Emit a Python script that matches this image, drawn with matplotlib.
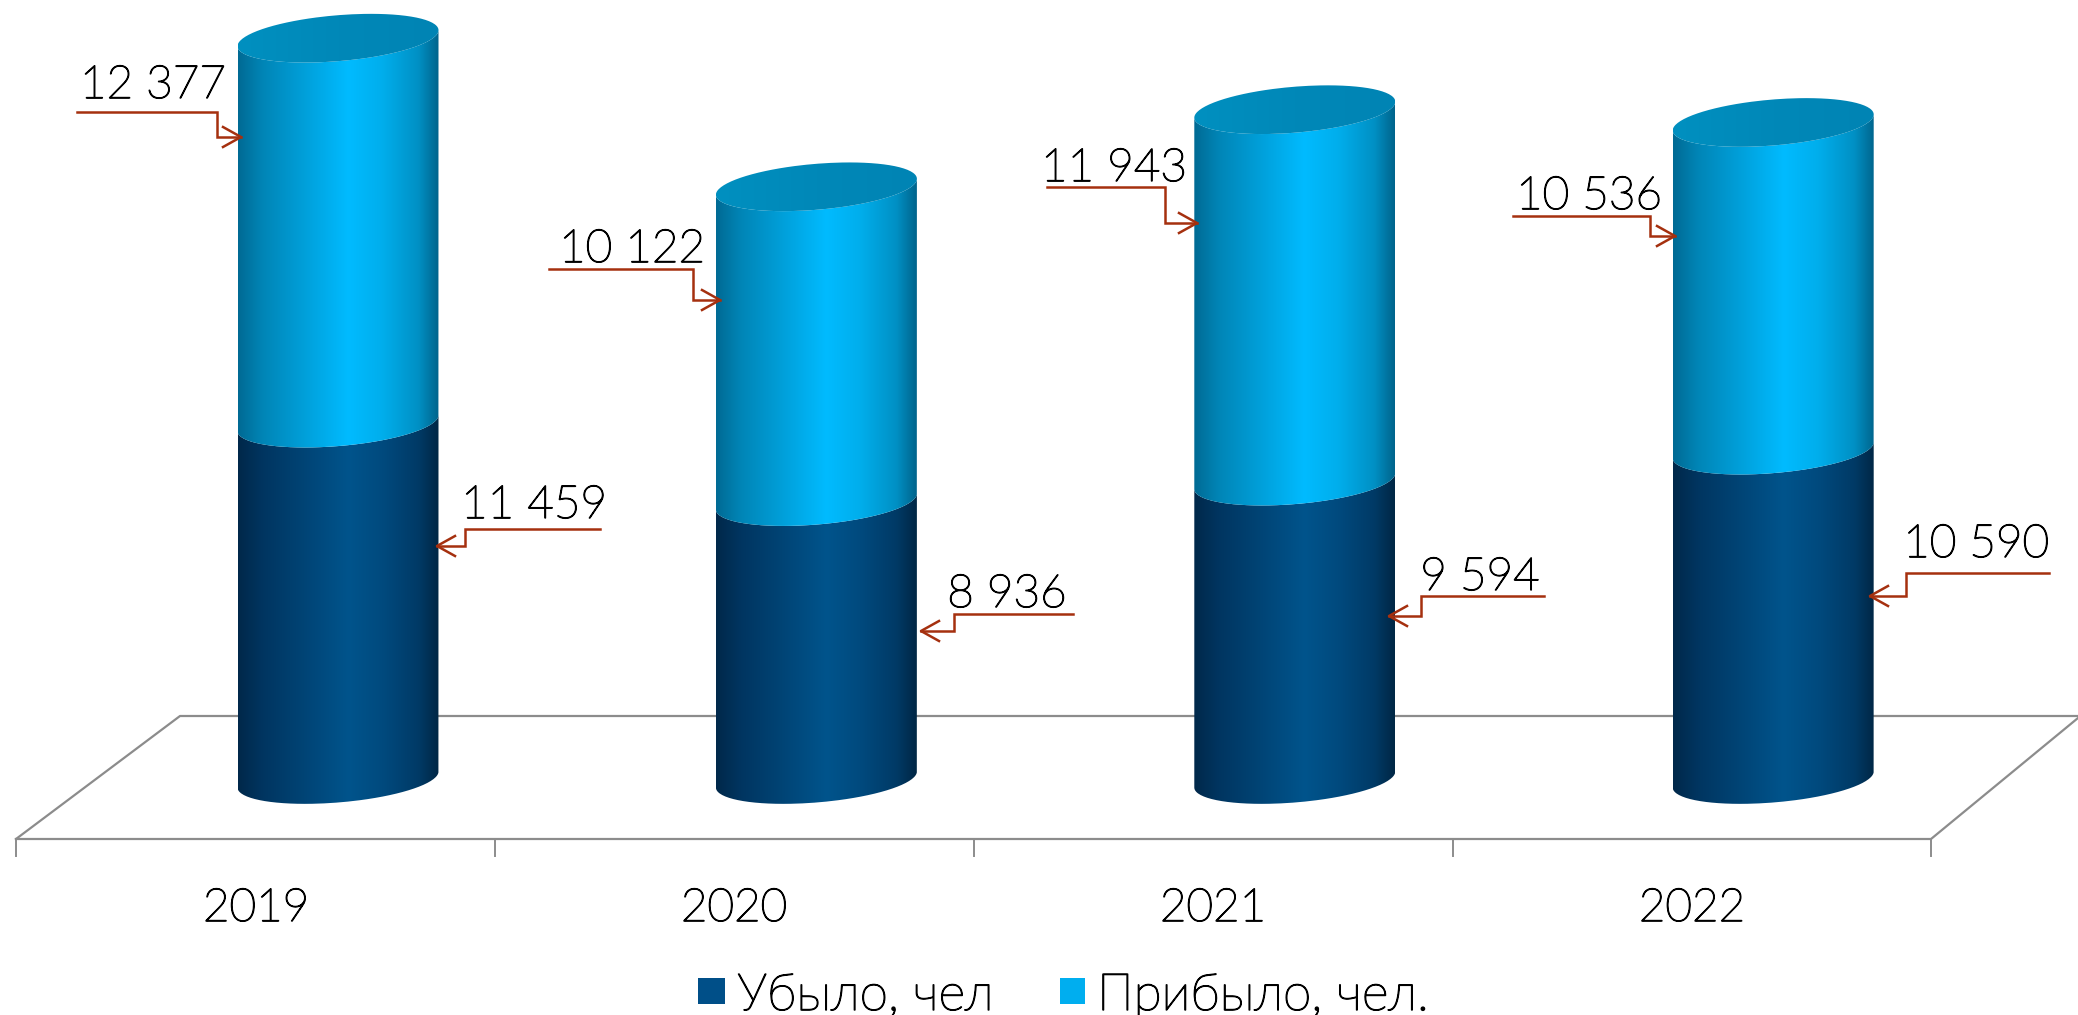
import numpy as np
import matplotlib
matplotlib.use('Agg')
import matplotlib.pyplot as plt
import matplotlib.patheffects as pe
from matplotlib.colors import LinearSegmentedColormap
from matplotlib.patches import PathPatch, Rectangle
from matplotlib.path import Path

plt.rcParams['font.family'] = ['Lato', 'Open Sans', 'DejaVu Sans']

years = ['2019', '2020', '2021', '2022']
left_values = [11459, 8936, 9594, 10590]
arrived_values = [12377, 10122, 11943, 10536]
legend_labels = ['Убыло, чел', 'Прибыло, чел.']

W, H = 2078, 1015
BASE_Y = 779.5
PX_PER_UNIT = 0.0311
FIRST_X, STEP_X = 338, 478.4
HALF_W = 100.5
SHEAR, DEPTH = 8.0, 23.0
GREY = '#8c8c8c'
RED = '#a5300f'
# the light face alone is hairline thin, so thicken it a little
TEXT_STROKE = [pe.withStroke(linewidth=1.0, foreground='black')]

dark_cmap = LinearSegmentedColormap.from_list('dark', [
    (0, '#00284a'), (0.12, '#003560'), (0.55, '#00548c'), (0.72, '#004a7e'), (0.9, '#003a66'), (1, '#002745')])
light_cmap = LinearSegmentedColormap.from_list('light', [
    (0, '#006a94'), (0.12, '#0085b6'), (0.55, '#00bbff'), (0.72, '#00aeec'), (0.9, '#0090c4'), (1, '#00648c')])
top_cmap = LinearSegmentedColormap.from_list('top', ['#0090c0', '#0088b8', '#0084b4'])

fig = plt.figure(figsize=(W / 100, H / 100), dpi=100)

# floor sits behind the cylinders, in pixels
floor = fig.add_axes((0, 0, 1, 1), zorder=-1)
floor.set_xlim(0, W)
floor.set_ylim(H, 0)
floor.axis('off')
floor.plot([16, 180, W], [839, 716, 716], color=GREY, lw=1.6)
floor.plot([16, 1931, W], [839, 839, 718], color=GREY, lw=1.6)
for tx in [16, 495, 974, 1453, 1931]:
    floor.plot([tx, tx], [839, 856], color=GREY, lw=1.4)

# data axes: values and category positions
ax = fig.add_axes((0, 0, 1, 1))
ax.axis('off')
ax.patch.set_alpha(0)

# overlay in pixels for leaders and text
px = fig.add_axes((0, 0, 1, 1), zorder=3)
px.set_xlim(0, W)
px.set_ylim(H, 0)
px.axis('off')
px.patch.set_alpha(0)


def edge_points(i, value, sign):
    # half of the tilted ellipse at a height: sign -1 is the far side, +1 the near side
    t = np.linspace(0, np.pi, 80)
    xs = i - HALF_W / STEP_X * np.cos(t)
    ys = value + (-sign * DEPTH * np.sin(t) - SHEAR * np.cos(t)) / PX_PER_UNIT
    return xs, ys


def fill_gradient(verts, i, low, high, cmap, zorder):
    clip = PathPatch(Path(verts), transform=ax.transData, fc='none', ec='none')
    ax.add_patch(clip)
    hw = HALF_W / STEP_X
    pad = (DEPTH + SHEAR + 5) / PX_PER_UNIT
    img = ax.imshow(np.linspace(0, 1, 256).reshape(1, -1), cmap=cmap, aspect='auto', zorder=zorder,
                    extent=(i - hw, i + hw, low - pad, high + pad))
    img.set_clip_path(clip)


def draw_segment(i, low, high, cmap, zorder):
    xs_hi, ys_hi = edge_points(i, high, 1)
    xs_lo, ys_lo = edge_points(i, low, 1)
    verts = np.vstack([np.c_[xs_hi, ys_hi], np.c_[xs_lo, ys_lo][::-1], [[xs_hi[0], ys_hi[0]]]])
    fill_gradient(verts, i, low, high, cmap, zorder)


for i in range(len(years)):
    low = left_values[i]
    top = low + arrived_values[i]
    draw_segment(i, 0, low, dark_cmap, 2)
    draw_segment(i, low, top, light_cmap, 3)
    xs_far, ys_far = edge_points(i, top, -1)
    xs_near, ys_near = edge_points(i, top, 1)
    cap = np.vstack([np.c_[xs_far, ys_far], np.c_[xs_near, ys_near][::-1]])
    fill_gradient(cap, i, top, top, top_cmap, 4)
ax.set_xlim(-FIRST_X / STEP_X, (W - FIRST_X) / STEP_X)
ax.set_ylim((BASE_Y - H) / PX_PER_UNIT, BASE_Y / PX_PER_UNIT)

# leader lines: start x, start y, elbow x, drop y, tip x
arrived_leaders = [(77, 112, 217, 137, 241), (549, 269, 693, 300, 720),
                   (1047, 187, 1165, 223, 1197), (1513, 216, 1650, 236, 1675)]
left_leaders = [(600, 529, 465, 546, 437), (1073, 614, 954, 631, 921),
                (1544, 596, 1421, 616, 1389), (2049, 573, 1906, 596, 1870)]
arrived_text_pos = [(153, 98), (632, 262), (1114, 181), (1589, 209)]
left_text_pos = [(534, 518), (1007, 607), (1480, 590), (1976, 557)]

for leaders, values, pos in [(arrived_leaders, arrived_values, arrived_text_pos),
                             (left_leaders, left_values, left_text_pos)]:
    for (x0, y0, xm, y1, tip), value, (tx, ty) in zip(leaders, values, pos):
        px.plot([x0, xm, xm, tip], [y0, y0, y1, y1], color=RED, lw=1.8, solid_joinstyle='miter')
        back = 18 if tip > xm else -18
        px.plot([tip - back, tip, tip - back], [y1 - 10, y1, y1 + 10], color=RED, lw=1.8)
        px.text(tx, ty, f'{value:,}'.replace(',', ' '), fontsize=33, fontweight='light',
                ha='center', va='baseline', color='black', path_effects=TEXT_STROKE)

for tx, year in zip([256, 734, 1213, 1692], years):
    px.text(tx, 921, year, fontsize=33, fontweight='light', ha='center', va='baseline',
            color='black', path_effects=TEXT_STROKE)

# legend
px.add_patch(Rectangle((698, 978), 27, 26, fc='#004f88', ec='none'))
px.text(737, 1010, legend_labels[0], fontsize=37, fontweight='light', ha='left', va='baseline',
        path_effects=TEXT_STROKE)
px.add_patch(Rectangle((1060, 978), 25, 26, fc='#00aeef', ec='none'))
px.text(1097, 1010, legend_labels[1], fontsize=37, fontweight='light', ha='left', va='baseline',
        path_effects=TEXT_STROKE)

fig.savefig('out.png', dpi=100, facecolor='white')
